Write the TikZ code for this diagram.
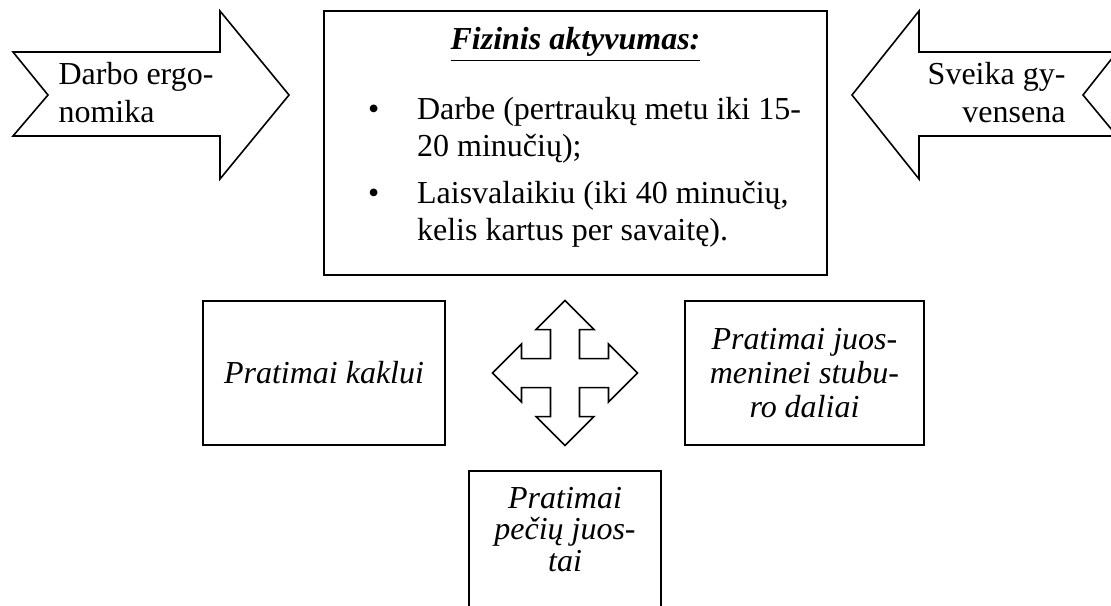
\documentclass[tikz,border=0pt]{standalone}
\usepackage{fontspec}
\setmainfont{Liberation Serif}
\usepackage{tikz}
\usetikzlibrary{positioning, calc}

\begin{document}
\begin{tikzpicture}[
    x=0.375pt, y=-0.375pt,
    mainbox/.style={rectangle, draw=black, line width=0.8pt, minimum width=188.6pt, minimum height=99pt, inner sep=0pt, font=\fontsize{12}{13.9}\selectfont},
    pratbox/.style={rectangle, draw=black, line width=0.75pt, minimum height=54pt, inner sep=0pt, align=center, font=\fontsize{12}{12.75}\selectfont\itshape},
    bigarrow/.style={draw=black, line width=0.6pt},
    arrowtext/.style={inner sep=0pt, font=\fontsize{12}{14.25}\selectfont}
]
\useasboundingbox (0,0) rectangle (1111,606);
\clip (0,0) rectangle (1111,606);

\node (aktyv) [mainbox] at (575.5,143) {%
  \begin{tabular}{@{\hspace{6.75pt}}p{18.4pt}@{}l@{}}
  \multicolumn{2}{@{}c@{}}{\underline{\textbf{\textit{Fizinis aktyvumas:}}}}\\[12.35pt]
  \textbullet & Darbe (pertraukų metu iki 15-\\
   & 20 minučių);\\[3.75pt]
  \textbullet & Laisvalaikiu (iki 40 minučių,\\
   & kelis kartus per savaitę).\rule[-8.2pt]{0pt}{8.2pt}
  \end{tabular}};

\draw [bigarrow] (13,52) -- (220,52) -- (220,11) -- (289,95) -- (220,179) -- (220,136) -- (13,136) -- (48,95) -- cycle;
\node (ergo) [arrowtext, align=left, anchor=base west] at (58,123) {Darbo ergo-\\nomika};

\draw [bigarrow] (852,95) -- (919,11) -- (919,52) -- (1117,52) -- (1083,95) -- (1117,136) -- (919,136) -- (919,179) -- cycle;
\node (gyven) [arrowtext, align=right, anchor=base east] at (1066,123) {Sveika gy-\\vensena};

\node (kaklui) [pratbox, minimum width=90.75pt, below left=9pt and 48.56pt of aktyv.south] {Pratimai kaklui};
\node (juosm) [pratbox, minimum width=89.6pt, below right=9pt and 40.69pt of aktyv.south] {Pratimai juos-\\meninei stubu-\\ro daliai};

\coordinate (kryzius) at ($(kaklui.east)!0.5!(juosm.west)$);
\draw [bigarrow, shift={(kryzius)}] (0,-72.5) -- (29,-43.5) -- (14.5,-43.5) -- (14.5,-14.5) -- (43.5,-14.5) -- (43.5,-29) -- (72.5,0) -- (43.5,29) -- (43.5,14.5) -- (14.5,14.5) -- (14.5,43.5) -- (29,43.5) -- (0,72.5) -- (-29,43.5) -- (-14.5,43.5) -- (-14.5,14.5) -- (-43.5,14.5) -- (-43.5,29) -- (-72.5,0) -- (-43.5,-29) -- (-43.5,-14.5) -- (-14.5,-14.5) -- (-14.5,-43.5) -- (-29,-43.5) -- cycle;

\node (peciu) [pratbox, minimum width=72pt, font=\fontsize{12}{11.8}\selectfont\itshape, below=36.19pt of kryzius] {Pratimai\\pečių juos-\\tai\rule[-10.1pt]{0pt}{10.1pt}};

\end{tikzpicture}
\end{document}
